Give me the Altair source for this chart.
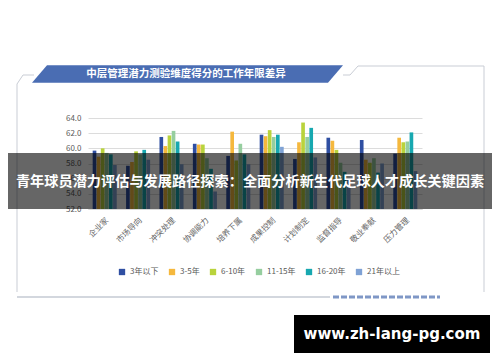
import altair as alt
import pandas as pd

categories = ["企业家", "市场导向", "冲突处理", "协调能力", "培养下属",
              "成果控制", "计划制定", "监督指导", "敬业奉献", "压力管理"]
series = ["3年以下", "3-5年", "6-10年", "11-15年", "16-20年", "21年以上"]
colors = ["#2F4FA2", "#F5B83D", "#B9D33C", "#96CE9F", "#17A8B0", "#7FA2D5"]

v_lt3 = [59.7, 57.7, 61.5, 60.6, 59.0, 61.8, 58.6, 61.4, 61.1, 59.3]
v_3_5 = [58.9, 58.2, 60.3, 60.5, 62.2, 61.6, 60.8, 61.0, 58.5, 61.4]
v_6_10 = [60.0, 59.6, 61.7, 60.5, 58.4, 62.4, 63.4, 59.8, 58.1, 60.8]
v_11_15 = [59.4, 59.2, 62.3, 58.7, 60.6, 61.5, 61.5, 58.1, 58.7, 60.9]
v_16_20 = [59.2, 59.8, 60.9, 57.3, 59.2, 61.8, 62.7, 56.9, 56.8, 62.1]
v_21p = [57.8, 58.5, 57.9, 54.3, 57.9, 60.2, 58.8, 55.9, 58.0, 57.0]

y_ticks = [52, 54, 56, 58, 60, 62, 64]

chart_title = "中层管理潜力测验维度得分的工作年限差异"
banner_text = "青年球员潜力评估与发展路径探索：全面分析新生代足球人才成长关键因素"
watermark = "www.zh-lang-pg.com"

all_vals = [v_lt3, v_3_5, v_6_10, v_11_15, v_16_20, v_21p]
rows = []
for s, vals in zip(series, all_vals):
    for c, v in zip(categories, vals):
        rows.append({"维度": c, "年限": s, "得分": v})
df = pd.DataFrame(rows)

FONT = "Noto Sans CJK SC"
W, H = 334, 91
one = pd.DataFrame({"k": [0]})

bars = alt.Chart(df).mark_bar().encode(
    x=alt.X("维度:N", sort=categories,
            scale=alt.Scale(paddingInner=0.28, paddingOuter=0.14),
            axis=alt.Axis(title=None, labelAngle=-45, labelAlign="right",
                          labelBaseline="top", labelPadding=7, ticks=False,
                          labelFontSize=8, labelColor="#666666", labelFont=FONT,
                          domainColor="#d9d9d9")),
    xOffset=alt.XOffset("年限:N", sort=series, scale=alt.Scale(paddingInner=0.1)),
    y=alt.Y("得分:Q", scale=alt.Scale(domain=[52, 64], zero=False, nice=False),
            axis=alt.Axis(title=None, values=y_ticks, format=".1f", ticks=False,
                          domain=False, labelPadding=7, labelFontSize=8,
                          labelColor="#595959", labelFont=FONT,
                          gridColor="#dcdcdc")),
    y2=alt.datum(52),
    color=alt.Color("年限:N", sort=series,
                    scale=alt.Scale(domain=series, range=colors),
                    legend=alt.Legend(title=None, orient="none", legendX=30, legendY=150,
                                      direction="horizontal", columns=6,
                                      symbolType="square", symbolSize=40,
                                      symbolStrokeWidth=0, labelFontSize=8,
                                      labelColor="#595959", labelFont=FONT,
                                      columnPadding=9, labelOffset=4)),
)

def px(x):
    return x - 88

def py(y):
    return y - 118

def rule(x1, y1, x2, y2, color="#c9cdd5", width=1, dash=None):
    kw = dict(color=color, strokeWidth=width)
    if dash:
        kw["strokeDash"] = dash
    return alt.Chart(one).mark_rule(**kw).encode(
        x=alt.value(px(x1)), x2=alt.value(px(x2)),
        y=alt.value(py(y1)), y2=alt.value(py(y2)))

frame = [
    rule(17, 84, 23, 75),
    rule(23, 75, 34, 75),
    rule(17, 84, 17, 292),
    rule(343, 75, 350, 75),
    rule(350, 75, 358, 66),
    rule(358, 66, 484, 66),
    rule(484, 66, 484, 292),
    rule(17, 297, 330, 297, color="#d3d7de", width=2),
    rule(333, 297, 440, 297, color="#7f97c6", width=3, dash=[6, 2]),
]

tab_path = "M -0.9035 -0.0569 L 1 -0.0569 L 0.9035 0.0569 L -1 0.0569 Z"
tab = alt.Chart(one).mark_point(shape=tab_path, filled=True, size=311 * 311,
                                color="#4A6DB3", opacity=1, strokeWidth=0).encode(
    x=alt.value(px(187.5)), y=alt.value(py(74)))
tab_text = alt.Chart(one).mark_text(text=chart_title, font=FONT, fontSize=10.5,
                                    fontWeight="bold", color="white",
                                    align="center", baseline="middle").encode(
    x=alt.value(px(186)), y=alt.value(py(74)))

banner = alt.Chart(one).mark_rect(color="#000000", opacity=0.6).encode(
    x=alt.value(px(-10)), x2=alt.value(px(510)),
    y=alt.value(py(153)), y2=alt.value(py(209)))
banner_t = alt.Chart(one).mark_text(text=banner_text, font=FONT, fontSize=14.2,
                                    fontWeight="bold", color="white",
                                    align="center", baseline="middle").encode(
    x=alt.value(px(250)), y=alt.value(py(182)))

wm_box = alt.Chart(one).mark_rect(color="#000000").encode(
    x=alt.value(px(294)), x2=alt.value(px(490)),
    y=alt.value(py(315)), y2=alt.value(py(353)))
wm_text = alt.Chart(one).mark_text(text=watermark, font="DejaVu Sans", fontSize=15,
                                   fontWeight="bold", color="white",
                                   align="center", baseline="middle").encode(
    x=alt.value(px(392)), y=alt.value(py(334)))

chart = alt.layer(*frame, tab, tab_text, bars, banner, banner_t, wm_box, wm_text).properties(
    width=W, height=H,
    autosize=alt.AutoSizeParams(type="none"),
    padding={"left": 80, "top": 110, "right": 70, "bottom": 145},
    background="white",
).configure_view(stroke=None)

chart.save("out.html", embed_options={"renderer": "svg", "actions": False})
